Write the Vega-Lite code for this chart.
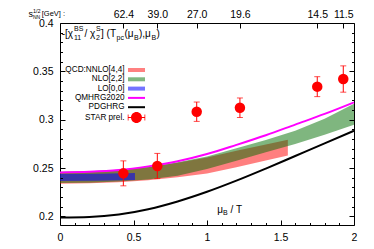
{
  "$schema": "https://vega.github.io/schema/vega-lite/v6.json",
  "width": 294,
  "height": 202,
  "autosize": {"type": "none"},
  "padding": {"left": 60, "top": 23, "right": 20, "bottom": 24},
  "datasets": {
    "bands": [
      {"series": "QCD:NNLO[4,4]", "x": 0, "lo": 0.2338, "hi": 0.2460},
      {"series": "QCD:NNLO[4,4]", "x": 0.2, "lo": 0.2343, "hi": 0.2465},
      {"series": "QCD:NNLO[4,4]", "x": 0.4, "lo": 0.2355, "hi": 0.2480},
      {"series": "QCD:NNLO[4,4]", "x": 0.6, "lo": 0.2375, "hi": 0.2510},
      {"series": "QCD:NNLO[4,4]", "x": 0.8, "lo": 0.2405, "hi": 0.2555},
      {"series": "QCD:NNLO[4,4]", "x": 1.0, "lo": 0.2445, "hi": 0.2610},
      {"series": "QCD:NNLO[4,4]", "x": 1.2, "lo": 0.2510, "hi": 0.2680},
      {"series": "QCD:NNLO[4,4]", "x": 1.4, "lo": 0.2580, "hi": 0.2745},
      {"series": "QCD:NNLO[4,4]", "x": 1.55, "lo": 0.2630, "hi": 0.2793},
      {"series": "NLO[2,2]", "x": 0, "lo": 0.2345, "hi": 0.2463},
      {"series": "NLO[2,2]", "x": 0.2, "lo": 0.2350, "hi": 0.2468},
      {"series": "NLO[2,2]", "x": 0.4, "lo": 0.2362, "hi": 0.2483},
      {"series": "NLO[2,2]", "x": 0.6, "lo": 0.2382, "hi": 0.2515},
      {"series": "NLO[2,2]", "x": 0.8, "lo": 0.2420, "hi": 0.2560},
      {"series": "NLO[2,2]", "x": 1.0, "lo": 0.2490, "hi": 0.2620},
      {"series": "NLO[2,2]", "x": 1.2, "lo": 0.2575, "hi": 0.2705},
      {"series": "NLO[2,2]", "x": 1.4, "lo": 0.2665, "hi": 0.2790},
      {"series": "NLO[2,2]", "x": 1.6, "lo": 0.2750, "hi": 0.2885},
      {"series": "NLO[2,2]", "x": 1.8, "lo": 0.2845, "hi": 0.3010},
      {"series": "NLO[2,2]", "x": 2.0, "lo": 0.2948, "hi": 0.3165},
      {"series": "LO[0,0]", "x": 0, "lo": 0.2368, "hi": 0.2440},
      {"series": "LO[0,0]", "x": 0.25, "lo": 0.2370, "hi": 0.2442},
      {"series": "LO[0,0]", "x": 0.51, "lo": 0.2376, "hi": 0.2450}
    ],
    "curves": [
      {"series": "QMHRG2020", "x": 0, "y": 0.2455},
      {"series": "QMHRG2020", "x": 0.2, "y": 0.2462},
      {"series": "QMHRG2020", "x": 0.4, "y": 0.2480},
      {"series": "QMHRG2020", "x": 0.6, "y": 0.2518},
      {"series": "QMHRG2020", "x": 0.8, "y": 0.2570},
      {"series": "QMHRG2020", "x": 1.0, "y": 0.2645},
      {"series": "QMHRG2020", "x": 1.2, "y": 0.2740},
      {"series": "QMHRG2020", "x": 1.4, "y": 0.2840},
      {"series": "QMHRG2020", "x": 1.6, "y": 0.2950},
      {"series": "QMHRG2020", "x": 1.8, "y": 0.3060},
      {"series": "QMHRG2020", "x": 2.0, "y": 0.3180},
      {"series": "PDGHRG", "x": 0, "y": 0.1990},
      {"series": "PDGHRG", "x": 0.2, "y": 0.1995},
      {"series": "PDGHRG", "x": 0.4, "y": 0.2020},
      {"series": "PDGHRG", "x": 0.6, "y": 0.2075},
      {"series": "PDGHRG", "x": 0.8, "y": 0.2155},
      {"series": "PDGHRG", "x": 1.0, "y": 0.2255},
      {"series": "PDGHRG", "x": 1.2, "y": 0.2370},
      {"series": "PDGHRG", "x": 1.4, "y": 0.2495},
      {"series": "PDGHRG", "x": 1.6, "y": 0.2625},
      {"series": "PDGHRG", "x": 1.8, "y": 0.2755},
      {"series": "PDGHRG", "x": 2.0, "y": 0.2886}
    ],
    "star": [
      {"x": 0.431, "y": 0.2446, "err": 0.0129},
      {"x": 0.662, "y": 0.2522, "err": 0.0130},
      {"x": 0.930, "y": 0.3083, "err": 0.0100},
      {"x": 1.224, "y": 0.3124, "err": 0.0101},
      {"x": 1.750, "y": 0.3342, "err": 0.0103},
      {"x": 1.927, "y": 0.3421, "err": 0.0136}
    ],
    "keys": [
      {"series": "QCD:NNLO[4,4]"},
      {"series": "NLO[2,2]"},
      {"series": "LO[0,0]"},
      {"series": "QMHRG2020"},
      {"series": "PDGHRG"},
      {"series": "STAR prel."}
    ]
  },
  "layer": [
    {
      "data": {"name": "bands"},
      "transform": [{"filter": "datum.series == 'QCD:NNLO[4,4]'"}],
      "mark": {"type": "area", "color": "#ff0000", "opacity": 0.5},
      "encoding": {
        "x": {
          "field": "x", "type": "quantitative", "title": null,
          "scale": {"domain": [0, 2], "nice": false, "zero": false},
          "axis": {
            "orient": "bottom", "offset": -5, "labelOverlap": false, "ticks": true, "zindex": 1,
            "values": [0, 0.1, 0.2, 0.3, 0.4, 0.5, 0.6, 0.7, 0.8, 0.9, 1, 1.1, 1.2, 1.3, 1.4, 1.5, 1.6, 1.7, 1.8, 1.9, 2],
            "labelExpr": "abs(datum.value*2 - round(datum.value*2)) < 0.001 ? format(datum.value, '~g') : ''",
            "tickSize": 5,
            "tickDash": {"condition": {"test": "abs(datum.value*2 - round(datum.value*2)) < 0.001", "value": [5, 0]}, "value": [0, 2.5, 2.5]},
            "labelPadding": 7
          }
        },
        "y": {
          "field": "lo", "type": "quantitative", "title": null,
          "scale": {"domain": [0.1912, 0.4], "nice": false, "zero": false},
          "axis": {
            "orient": "left", "offset": -5, "labelOverlap": false, "ticks": true, "zindex": 1,
            "values": [0.2, 0.21, 0.22, 0.23, 0.24, 0.25, 0.26, 0.27, 0.28, 0.29, 0.3, 0.31, 0.32, 0.33, 0.34, 0.35, 0.36, 0.37, 0.38, 0.39, 0.4],
            "labelExpr": "abs(datum.value*20 - round(datum.value*20)) < 0.001 ? format(datum.value, '~g') : ''",
            "tickSize": 5,
            "tickDash": {"condition": {"test": "abs(datum.value*20 - round(datum.value*20)) < 0.001", "value": [5, 0]}, "value": [0, 2.5, 2.5]},
            "labelPadding": 7
          }
        },
        "y2": {"field": "hi"}
      }
    },
    {
      "data": {"name": "bands"},
      "transform": [{"filter": "datum.series == 'NLO[2,2]'"}],
      "mark": {"type": "area", "color": "#006e00", "opacity": 0.5},
      "encoding": {
        "x": {"field": "x", "type": "quantitative", "axis": null},
        "y": {"field": "lo", "type": "quantitative", "axis": null},
        "y2": {"field": "hi"}
      }
    },
    {
      "data": {"name": "bands"},
      "transform": [{"filter": "datum.series == 'LO[0,0]'"}],
      "mark": {"type": "area", "color": "#0000ff", "opacity": 0.55},
      "encoding": {
        "x": {"field": "x", "type": "quantitative", "axis": null},
        "y": {"field": "lo", "type": "quantitative", "axis": null},
        "y2": {"field": "hi"}
      }
    },
    {
      "data": {"name": "curves"},
      "transform": [{"filter": "datum.series == 'QMHRG2020'"}],
      "mark": {"type": "line", "color": "#ff00ff", "strokeWidth": 2, "interpolate": "monotone"},
      "encoding": {
        "x": {"field": "x", "type": "quantitative", "axis": null},
        "y": {"field": "y", "type": "quantitative", "axis": null}
      }
    },
    {
      "data": {"name": "curves"},
      "transform": [{"filter": "datum.series == 'PDGHRG'"}],
      "mark": {"type": "line", "color": "#000000", "strokeWidth": 2, "interpolate": "monotone"},
      "encoding": {
        "x": {
          "field": "x", "type": "quantitative", "title": null,
          "axis": {
            "orient": "top", "offset": -5, "labelOverlap": false, "ticks": true, "zindex": 1,
            "values": [0.431, 0.662, 0.930, 1.224, 1.750, 1.927],
            "labelExpr": "datum.value < 0.5 ? '62.4' : datum.value < 0.8 ? '39.0' : datum.value < 1.0 ? '27.0' : datum.value < 1.5 ? '19.6' : datum.value < 1.8 ? '14.5' : '11.5'",
            "tickSize": 5,
            "labelPadding": 4
          }
        },
        "y": {
          "field": "y", "type": "quantitative", "title": null,
          "axis": {
            "orient": "right", "offset": -5, "ticks": true, "zindex": 1,
            "values": [0.2, 0.21, 0.22, 0.23, 0.24, 0.25, 0.26, 0.27, 0.28, 0.29, 0.3, 0.31, 0.32, 0.33, 0.34, 0.35, 0.36, 0.37, 0.38, 0.39, 0.4],
            "labels": false,
            "tickSize": 5,
            "tickDash": {"condition": {"test": "abs(datum.value*20 - round(datum.value*20)) < 0.001", "value": [5, 0]}, "value": [0, 2.5, 2.5]}
          }
        }
      }
    },
    {
      "data": {"name": "star"},
      "mark": {"type": "errorbar", "color": "#ff0000", "ticks": {"size": 6, "color": "#ff0000"}, "rule": {"color": "#ff0000"}},
      "encoding": {
        "x": {"field": "x", "type": "quantitative", "axis": null},
        "y": {"field": "y", "type": "quantitative", "axis": null},
        "yError": {"field": "err"}
      }
    },
    {
      "data": {"name": "star"},
      "mark": {"type": "point", "filled": true, "color": "#ff0000", "opacity": 1, "size": 110},
      "encoding": {
        "x": {"field": "x", "type": "quantitative", "axis": null},
        "y": {"field": "y", "type": "quantitative", "axis": null}
      }
    },
    {
      "data": {"name": "keys"},
      "transform": [{"filter": "false"}],
      "mark": {"type": "point", "filled": true, "opacity": 1},
      "encoding": {
        "color": {
          "field": "series", "type": "nominal",
          "scale": {
            "domain": ["QCD:NNLO[4,4]", "NLO[2,2]", "LO[0,0]", "QMHRG2020", "PDGHRG", "STAR prel."],
            "range": ["#ff8080", "#80b780", "#7373ff", "#ff00ff", "#000000", "#ff0000"]
          },
          "legend": {
            "title": null, "orient": "none", "legendX": 71.5, "legendY": 42,
            "labelAlign": "right", "labelOffset": -17, "symbolSize": 100,
            "symbolStrokeWidth": 0, "symbolOpacity": 1, "rowPadding": 0.3,
            "padding": 0, "labelFontSize": 8.2, "labelFont": "Liberation Sans",
            "labelLimit": 0, "labelColor": "black"
          }
        },
        "shape": {
          "field": "series", "type": "nominal",
          "scale": {
            "domain": ["QCD:NNLO[4,4]", "NLO[2,2]", "LO[0,0]", "QMHRG2020", "PDGHRG", "STAR prel."],
            "range": [
              "M-1.7,-0.4H1.7V0.4H-1.7Z",
              "M-1.7,-0.4H1.7V0.4H-1.7Z",
              "M-1.7,-0.4H1.7V0.4H-1.7Z",
              "M-1.7,-0.2H1.7V0.2H-1.7Z",
              "M-1.7,-0.2H1.7V0.2H-1.7Z",
              "M-1.1,0A1.1,1.1 0 1,1 1.1,0A1.1,1.1 0 1,1 -1.1,0Z M-1.7,-0.1H-1V0.1H-1.7Z M1,-0.1H1.7V0.1H1Z M-1.75,-0.6H-1.6V0.6H-1.75Z M1.6,-0.6H1.75V0.6H1.6Z"
            ]
          }
        }
      }
    },
    {
      "data": {"values": [{"t": "-[χ"}]},
      "mark": {"type": "text", "align": "left", "baseline": "middle", "fontSize": 10, "font": "Liberation Sans"},
      "encoding": {"x": {"datum": 0.0116, "type": "quantitative", "axis": null}, "y": {"datum": 0.3886, "type": "quantitative", "axis": null}, "text": {"field": "t"}}
    },
    {
      "data": {"values": [{"t": "BS"}]},
      "mark": {"type": "text", "align": "left", "baseline": "middle", "fontSize": 7, "font": "Liberation Sans"},
      "encoding": {"x": {"datum": 0.0952, "type": "quantitative", "axis": null}, "y": {"datum": 0.3935, "type": "quantitative", "axis": null}, "text": {"field": "t"}}
    },
    {
      "data": {"values": [{"t": "11"}]},
      "mark": {"type": "text", "align": "left", "baseline": "middle", "fontSize": 7, "font": "Liberation Sans"},
      "encoding": {"x": {"datum": 0.0952, "type": "quantitative", "axis": null}, "y": {"datum": 0.3848, "type": "quantitative", "axis": null}, "text": {"field": "t"}}
    },
    {
      "data": {"values": [{"t": "/ χ"}]},
      "mark": {"type": "text", "align": "left", "baseline": "middle", "fontSize": 10, "font": "Liberation Sans"},
      "encoding": {"x": {"datum": 0.1667, "type": "quantitative", "axis": null}, "y": {"datum": 0.3886, "type": "quantitative", "axis": null}, "text": {"field": "t"}}
    },
    {
      "data": {"values": [{"t": "S"}]},
      "mark": {"type": "text", "align": "left", "baseline": "middle", "fontSize": 7, "font": "Liberation Sans"},
      "encoding": {"x": {"datum": 0.2449, "type": "quantitative", "axis": null}, "y": {"datum": 0.3935, "type": "quantitative", "axis": null}, "text": {"field": "t"}}
    },
    {
      "data": {"values": [{"t": "2"}]},
      "mark": {"type": "text", "align": "left", "baseline": "middle", "fontSize": 7, "font": "Liberation Sans"},
      "encoding": {"x": {"datum": 0.2449, "type": "quantitative", "axis": null}, "y": {"datum": 0.3848, "type": "quantitative", "axis": null}, "text": {"field": "t"}}
    },
    {
      "data": {"values": [{"t": "] (T"}]},
      "mark": {"type": "text", "align": "left", "baseline": "middle", "fontSize": 10, "font": "Liberation Sans"},
      "encoding": {"x": {"datum": 0.2789, "type": "quantitative", "axis": null}, "y": {"datum": 0.3886, "type": "quantitative", "axis": null}, "text": {"field": "t"}}
    },
    {
      "data": {"values": [{"t": "pc"}]},
      "mark": {"type": "text", "align": "left", "baseline": "middle", "fontSize": 7, "font": "Liberation Sans"},
      "encoding": {"x": {"datum": 0.3844, "type": "quantitative", "axis": null}, "y": {"datum": 0.3840, "type": "quantitative", "axis": null}, "text": {"field": "t"}}
    },
    {
      "data": {"values": [{"t": "(μ"}]},
      "mark": {"type": "text", "align": "left", "baseline": "middle", "fontSize": 10, "font": "Liberation Sans"},
      "encoding": {"x": {"datum": 0.4388, "type": "quantitative", "axis": null}, "y": {"datum": 0.3886, "type": "quantitative", "axis": null}, "text": {"field": "t"}}
    },
    {
      "data": {"values": [{"t": "B"}]},
      "mark": {"type": "text", "align": "left", "baseline": "middle", "fontSize": 7, "font": "Liberation Sans"},
      "encoding": {"x": {"datum": 0.5034, "type": "quantitative", "axis": null}, "y": {"datum": 0.3840, "type": "quantitative", "axis": null}, "text": {"field": "t"}}
    },
    {
      "data": {"values": [{"t": "),μ"}]},
      "mark": {"type": "text", "align": "left", "baseline": "middle", "fontSize": 10, "font": "Liberation Sans"},
      "encoding": {"x": {"datum": 0.5374, "type": "quantitative", "axis": null}, "y": {"datum": 0.3886, "type": "quantitative", "axis": null}, "text": {"field": "t"}}
    },
    {
      "data": {"values": [{"t": "B"}]},
      "mark": {"type": "text", "align": "left", "baseline": "middle", "fontSize": 7, "font": "Liberation Sans"},
      "encoding": {"x": {"datum": 0.6224, "type": "quantitative", "axis": null}, "y": {"datum": 0.3840, "type": "quantitative", "axis": null}, "text": {"field": "t"}}
    },
    {
      "data": {"values": [{"t": ")"}]},
      "mark": {"type": "text", "align": "left", "baseline": "middle", "fontSize": 10, "font": "Liberation Sans"},
      "encoding": {"x": {"datum": 0.6565, "type": "quantitative", "axis": null}, "y": {"datum": 0.3886, "type": "quantitative", "axis": null}, "text": {"field": "t"}}
    },
    {
      "data": {"values": [{"t": "μ"}]},
      "mark": {"type": "text", "align": "left", "baseline": "middle", "fontSize": 10, "font": "Liberation Sans"},
      "encoding": {"x": {"datum": 1.070, "type": "quantitative", "axis": null}, "y": {"datum": 0.2062, "type": "quantitative", "axis": null}, "text": {"field": "t"}}
    },
    {
      "data": {"values": [{"t": "B"}]},
      "mark": {"type": "text", "align": "left", "baseline": "middle", "fontSize": 7, "font": "Liberation Sans"},
      "encoding": {"x": {"datum": 1.109, "type": "quantitative", "axis": null}, "y": {"datum": 0.2036, "type": "quantitative", "axis": null}, "text": {"field": "t"}}
    },
    {
      "data": {"values": [{"t": "/ T"}]},
      "mark": {"type": "text", "align": "left", "baseline": "middle", "fontSize": 10, "font": "Liberation Sans"},
      "encoding": {"x": {"datum": 1.160, "type": "quantitative", "axis": null}, "y": {"datum": 0.2062, "type": "quantitative", "axis": null}, "text": {"field": "t"}}
    },
    {
      "data": {"values": [{"t": "s"}]},
      "mark": {"type": "text", "align": "left", "baseline": "middle", "fontSize": 9, "font": "Liberation Sans"},
      "encoding": {"x": {"datum": -0.214, "type": "quantitative", "axis": null}, "y": {"datum": 0.4093, "type": "quantitative", "axis": null}, "text": {"field": "t"}}
    },
    {
      "data": {"values": [{"t": "1/2"}]},
      "mark": {"type": "text", "align": "left", "baseline": "middle", "fontSize": 5.5, "font": "Liberation Sans"},
      "encoding": {"x": {"datum": -0.184, "type": "quantitative", "axis": null}, "y": {"datum": 0.4128, "type": "quantitative", "axis": null}, "text": {"field": "t"}}
    },
    {
      "data": {"values": [{"t": "NN"}]},
      "mark": {"type": "text", "align": "left", "baseline": "middle", "fontSize": 5, "font": "Liberation Sans"},
      "encoding": {"x": {"datum": -0.184, "type": "quantitative", "axis": null}, "y": {"datum": 0.4058, "type": "quantitative", "axis": null}, "text": {"field": "t"}}
    },
    {
      "data": {"values": [{"t": "[GeV] :"}]},
      "mark": {"type": "text", "align": "left", "baseline": "middle", "fontSize": 7.5, "font": "Liberation Sans"},
      "encoding": {"x": {"datum": -0.124, "type": "quantitative", "axis": null}, "y": {"datum": 0.4093, "type": "quantitative", "axis": null}, "text": {"field": "t"}}
    }
  ],
  "resolve": {"axis": {"x": "independent", "y": "independent"}},
  "config": {
    "view": {"stroke": "#000000", "strokeWidth": 1},
    "axis": {
      "domain": false, "grid": false, "tickColor": "#000000", "tickWidth": 1, "tickOpacity": 1,
      "labelColor": "#000000", "labelFont": "Liberation Sans", "labelFontSize": 10.5,
      "labelFlush": false, "labelOverlap": false, "labelBound": false
    }
  }
}
